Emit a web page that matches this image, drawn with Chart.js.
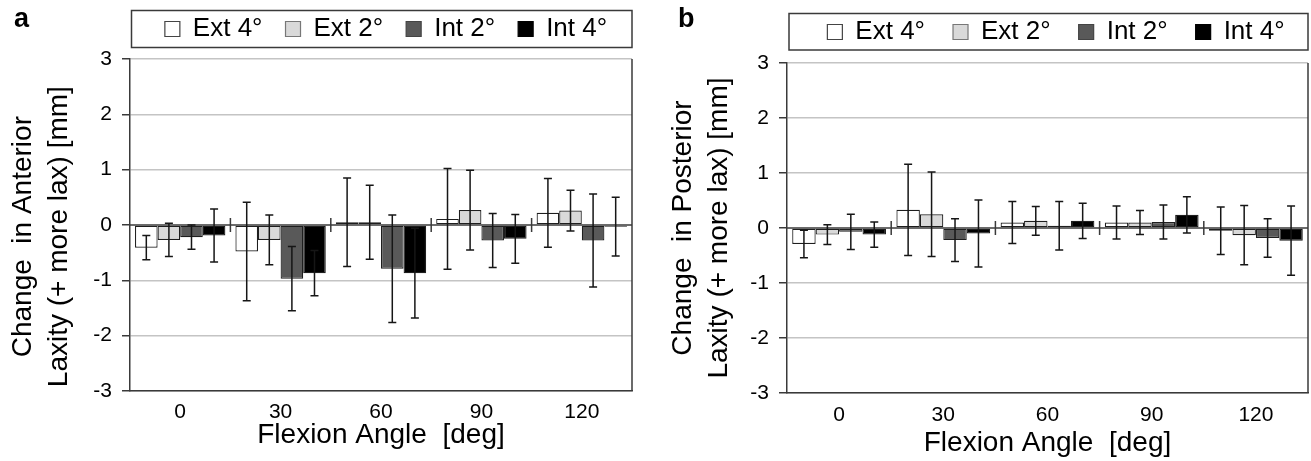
<!DOCTYPE html>
<html><head><meta charset="utf-8">
<script src="https://cdn.jsdelivr.net/npm/chart.js@4.4.1/dist/chart.umd.min.js"></script>
<style>
html,body{margin:0;padding:0;background:#fff;width:1311px;height:461px;overflow:hidden;}
#wrapA{position:absolute;left:0;top:0;width:655px;height:461px;}
#wrapB{position:absolute;left:655px;top:0;width:656px;height:461px;}
.panel{position:absolute;font:bold 27px "Liberation Sans",Arial,sans-serif;color:#000;line-height:1;}
</style></head><body>
<div id="wrapA"><canvas id="cA" width="655" height="461"></canvas></div>
<div id="wrapB"><canvas id="cB" width="656" height="461"></canvas></div>
<div class="panel" style="left:14px;top:5px">a</div>
<div class="panel" style="left:678px;top:5px">b</div>
<script>
// ---------- data ----------
const categories = ['0', '30', '60', '90', '120'];
const seriesNames = ['Ext 4°', 'Ext 2°', 'Int 2°', 'Int 4°'];

// (a) anterior laxity change [mm]
const antExt4 = [-0.41, -0.48, 0.05, 0.11, 0.22];
const antExt2 = [-0.27, -0.27, 0.05, 0.27, 0.26];
const antInt2 = [-0.22, -0.97, -0.79, -0.28, -0.28];
const antInt4 = [-0.19, -0.87, -0.87, -0.25, -0.03];
const antExt4Err = [0.22, 0.89, 0.80, 0.91, 0.62];
const antExt2Err = [0.30, 0.45, 0.67, 0.72, 0.37];
const antInt2Err = [0.22, 0.58, 0.97, 0.49, 0.84];
const antInt4Err = [0.48, 0.41, 0.81, 0.44, 0.53];

// (b) posterior laxity change [mm]
const postExt4 = [-0.29, 0.33, 0.10, 0.10, -0.05];
const postExt2 = [-0.12, 0.25, 0.13, 0.10, -0.13];
const postInt2 = [-0.07, -0.22, 0.04, 0.11, -0.18];
const postInt4 = [-0.12, -0.10, 0.13, 0.24, -0.23];
const postExt4Err = [0.25, 0.83, 0.38, 0.30, 0.43];
const postExt2Err = [0.18, 0.77, 0.26, 0.22, 0.54];
const postInt2Err = [0.32, 0.39, 0.44, 0.31, 0.35];
const postInt4Err = [0.23, 0.61, 0.32, 0.33, 0.63];

const yMin = -3, yMax = 3, yStep = 1;

// ---------- styling ----------
Chart.defaults.font.family = '"Liberation Sans", Arial, sans-serif';
Chart.defaults.color = '#000';
const fills = ['#ffffff', '#d9d9d9', '#595959', '#000000'];
const legendStrokes = ['#444444', '#777777', '#444444', '#000000'];
const DARK = '#3a3a3a';

function makePlugin(errs, cfg) {
  return {
    id: 'custom' + cfg.id,
    afterLayout(chart) {
      const lg = chart.legend, ca = chart.chartArea;
      const h = lg.height;
      lg.left = ca.left + cfg.legendShift;
      lg.right = ca.right + cfg.legendShift + 20;
      lg.width = lg.right - lg.left;
      const p = lg.options.labels.padding;
      lg.top = cfg.legendCenterY - p - 13;
      lg.bottom = lg.top + h;
      // re-center on the plot area (right edge widened only to avoid wrapping)
      lg.left -= 20;
      lg.width = lg.right - lg.left;
    },
    afterDatasetsDraw(chart) {
      const ctx = chart.ctx, xs = chart.scales.x, ys = chart.scales.y, ca = chart.chartArea;
      ctx.save();
      ctx.strokeStyle = DARK; ctx.lineWidth = 1.5;
      const y0 = ys.getPixelForValue(0);
      ctx.beginPath(); ctx.moveTo(ca.left, y0); ctx.lineTo(ca.right, y0); ctx.stroke();
      for (let k = 1; k < categories.length; k++) {
        const xb = (xs.getPixelForValue(k - 1) + xs.getPixelForValue(k)) / 2;
        ctx.beginPath(); ctx.moveTo(xb, y0 - 7); ctx.lineTo(xb, y0 + 7); ctx.stroke();
      }
      ctx.beginPath(); ctx.moveTo(ca.right, ca.top); ctx.lineTo(ca.right, ca.bottom); ctx.stroke();
      ctx.strokeStyle = '#161616'; ctx.lineWidth = 1.5;
      chart.data.datasets.forEach((ds, i) => {
        const meta = chart.getDatasetMeta(i);
        meta.data.forEach((bar, j) => {
          const v = ds.data[j], e = errs[i][j];
          const yt = ys.getPixelForValue(v + e), yb = ys.getPixelForValue(v - e);
          const xc = bar.x;
          ctx.beginPath();
          ctx.moveTo(xc, yt); ctx.lineTo(xc, yb);
          ctx.moveTo(xc - 4, yt); ctx.lineTo(xc + 4, yt);
          ctx.moveTo(xc - 4, yb); ctx.lineTo(xc + 4, yb);
          ctx.stroke();
        });
      });
      ctx.restore();
    },
    afterDraw(chart) {
      const ctx = chart.ctx, ca = chart.chartArea;
      ctx.save();
      ctx.strokeStyle = DARK; ctx.lineWidth = 1.5;
      ctx.strokeRect(ca.left + cfg.frameL, cfg.frameTop, ca.right - ca.left - cfg.frameL, cfg.frameBottom - cfg.frameTop);
      ctx.restore();
    }
  };
}

function makeChart(id, values, errs, yTitle, cfg) {
  const datasets = values.map((v, i) => ({
    label: seriesNames[i], data: v,
    backgroundColor: fills[i], borderColor: '#1e1e1e', borderWidth: 1.2,
    borderSkipped: false, categoryPercentage: 0.9, barPercentage: 1.0
  }));
  return new Chart(document.getElementById(id), {
    type: 'bar',
    data: { labels: categories, datasets },
    plugins: [makePlugin(errs, cfg)],
    options: {
      responsive: false, animation: false, events: [],
      layout: { padding: { top: cfg.padTop, left: 0, right: cfg.padRight, bottom: 0 } },
      plugins: {
        tooltip: { enabled: false },
        legend: {
          display: true, position: 'top', maxHeight: 49,
          labels: {
            boxWidth: 15, boxHeight: 15, padding: cfg.legendPad, font: { size: 26 }, color: '#000',
            generateLabels: (chart) => Chart.defaults.plugins.legend.labels.generateLabels(chart)
              .map((l, i) => Object.assign(l, { strokeStyle: legendStrokes[i], lineWidth: 1.2 }))
          }
        }
      },
      scales: {
        x: {
          type: 'category', offset: true,
          grid: { display: false, drawTicks: false },
          border: { display: true, color: DARK, width: 1.5 },
          ticks: { font: { size: 21 }, padding: cfg.xTickPad, color: '#000', maxRotation: 0 },
          title: { display: true, text: 'Flexion Angle  [deg]', font: { size: 28 }, padding: { top: 0, bottom: cfg.xTitlePad }, color: '#000' },
          afterFit(s) { s.height = cfg.xHeight; }
        },
        y: {
          min: yMin, max: yMax,
          ticks: { stepSize: yStep, font: { size: 21 }, padding: 10, color: '#000' },
          grid: {
            color: c => (c.tick && c.tick.value === 0) ? 'rgba(0,0,0,0)' : '#c4c4c4',
            lineWidth: 1.5, drawTicks: true, tickLength: 8, tickColor: DARK, tickWidth: 1.5
          },
          border: { display: true, color: DARK, width: 1.5 },
          title: { display: true, text: yTitle, font: { size: 28, lineHeight: 1.29 }, padding: { top: cfg.yTitlePad, bottom: 0 }, color: '#000' },
          afterFit(s) { s.width = cfg.yWidth; }
        }
      }
    }
  });
}

makeChart('cA',
  [antExt4, antExt2, antInt2, antInt4],
  [antExt4Err, antExt2Err, antInt2Err, antInt4Err],
  ['Change  in Anterior   ', 'Laxity (+ more lax) [mm]   '],
  { id: 'A', padTop: 10, padRight: 23, yWidth: 130, xHeight: 70, xTickPad: 9, xTitlePad: 9, yTitlePad: 5,
    legendPad: 23, legendShift: 5, legendCenterY: 29, frameL: 1.5, frameTop: 10.5, frameBottom: 47.5 });

makeChart('cB',
  [postExt4, postExt2, postInt2, postInt4],
  [postExt4Err, postExt2Err, postInt2Err, postInt4Err],
  ['Change  in Posterior', 'Laxity (+ more lax) [mm]'],
  { id: 'B', padTop: 14, padRight: 3, yWidth: 132, xHeight: 68, xTickPad: 10, xTitlePad: 1, yTitlePad: 10,
    legendPad: 28, legendShift: 8.5, legendCenterY: 32, frameL: 2, frameTop: 13.5, frameBottom: 50 });
</script>
</body></html>
